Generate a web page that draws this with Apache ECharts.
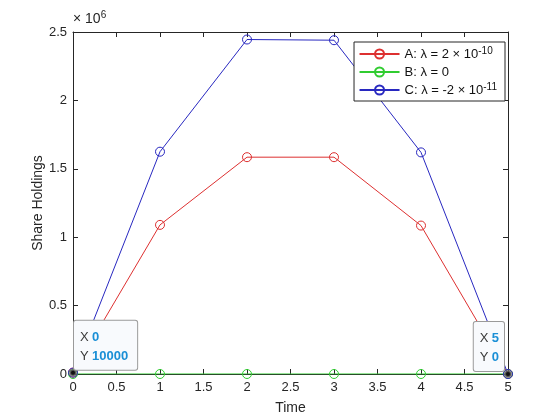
<!DOCTYPE html>
<html>
<head>
<meta charset="utf-8">
<script src="https://cdn.jsdelivr.net/npm/echarts@6/dist/echarts.min.js"></script>
<style>html,body{margin:0;padding:0;background:#fff}#c{width:560px;height:420px}</style>
</head>
<body>
<div id="c"></div>
<script>
var times = [0, 1, 2, 3, 4, 5];
var seriesA = [10000, 1090000, 1585000, 1585000, 1085000, 0];
var seriesB = [0, 0, 0, 0, 0, 0];
var seriesC = [10000, 1625000, 2445000, 2440000, 1620000, 0];
var seriesNames = ['A', 'B', 'C'];
var legendText = {
  A: 'A: λ = 2 × 10{sup|-10}',
  B: 'B: λ = 0',
  C: 'C: λ = -2 × 10{sup|-11}'
};
var yTicks = [0, 500000, 1000000, 1500000, 2000000, 2500000];

function pairs(v) { return times.map(function (t, i) { return [t, v[i]]; }); }

var font = 'Liberation Sans, Arial, sans-serif';
var axisColor = '#262626';
var circlePath = 'path://M9,4.5 A4.5,4.5 0 1 1 0,4.5 A4.5,4.5 0 1 1 9,4.5 Z';

var chart = echarts.init(document.getElementById('c'));
var tipLabel = {
  show: true,
  backgroundColor: '#f8fafd',
  borderColor: '#9a9a9a',
  borderWidth: 1,
  borderRadius: 2,
  padding: [7, 9, 4, 6],
  fontFamily: font,
  rich: {
    k: { fontSize: 13, color: '#3a3a3a', fontFamily: font, lineHeight: 19 },
    v: { fontSize: 13, color: '#1a8fd6', fontWeight: 'bold', fontFamily: font, lineHeight: 19 }
  }
};
function mkSeries(name, values, c, w) {
  return {
    name: name, type: 'line', data: pairs(values),
    symbol: circlePath, symbolSize: 9,
    color: c, lineStyle: { width: w, color: c },
    itemStyle: { color: 'none', borderColor: c, borderWidth: 1 }
  };
}
var sA = mkSeries('A', seriesA, '#dd3030', 1);
var sB = mkSeries('B', seriesB, '#30cc30', 1.2);
var sC = mkSeries('C', seriesC, '#2828c0', 1);
sC.markPoint = {
  symbol: 'circle', symbolSize: 6,
  itemStyle: { color: '#111', borderColor: 'rgba(110,110,110,0.7)', borderWidth: 2 },
  data: [{
    coord: [times[0], seriesC[0]],
    label: Object.assign({}, tipLabel, {
      formatter: '{k|X} {v|' + times[0] + '}\n{k|Y} {v|' + seriesC[0] + '}',
      position: [5, 1], align: 'left', verticalAlign: 'bottom'
    })
  }, {
    coord: [times[5], seriesC[5]],
    label: Object.assign({}, tipLabel, {
      formatter: '{k|X} {v|' + times[5] + '}\n{k|Y} {v|' + seriesC[5] + '}',
      padding: [7, 5, 4, 6],
      position: [0, 1], align: 'right', verticalAlign: 'bottom'
    })
  }]
};
var option = {
  animation: false,
  backgroundColor: '#fff',
  grid: { left: 73, right: 52, top: 32, bottom: 46 },
  graphic: [{
    type: 'text', left: 73, top: 10,
    style: {
      text: '× 10{s|6}', fontFamily: font, fontSize: 14, fill: axisColor,
      rich: { s: { fontSize: 10, verticalAlign: 'top', padding: [0, 0, 8, 0], fontFamily: font } }
    }
  }],
  legend: {
    orient: 'vertical', right: 55, top: 42,
    data: seriesNames,
    icon: 'path://M0,5 L40,5 M24.5,5 A4.5,4.5 0 1 1 15.5,5 A4.5,4.5 0 1 1 24.5,5',
    itemWidth: 40, itemHeight: 9, itemGap: 2,
    backgroundColor: '#fff', borderColor: '#262626', borderWidth: 1, borderRadius: 0,
    padding: [4, 8, 3, 3],
    formatter: function (n) { return legendText[n]; },
    textStyle: {
      fontFamily: font, fontSize: 13, color: '#111', lineHeight: 16,
      rich: { sup: { fontSize: 10, verticalAlign: 'top', padding: [0, 0, 8, 0], fontFamily: font, color: '#111' } }
    }
  },
  xAxis: [{
    type: 'value', min: 0, max: 5, interval: 0.5,
    name: 'Time', nameLocation: 'middle', nameGap: 27,
    nameTextStyle: { fontFamily: font, fontSize: 14, color: axisColor },
    axisLine: { lineStyle: { color: axisColor, width: 1 } },
    axisTick: { inside: true, length: 5, lineStyle: { color: axisColor } },
    axisLabel: { fontFamily: font, fontSize: 13, color: axisColor, margin: 7 },
    splitLine: { show: false }
  }, {
    type: 'value', min: 0, max: 5, interval: 0.5, position: 'top',
    axisLine: { show: true, onZero: false, lineStyle: { color: axisColor, width: 1 } },
    axisTick: { inside: true, length: 5, lineStyle: { color: axisColor } },
    axisLabel: { show: false }, splitLine: { show: false }
  }],
  yAxis: [{
    type: 'value', min: 0, max: 2500000, interval: 500000,
    name: 'Share Holdings', nameLocation: 'middle', nameGap: 28, nameMoveOverlap: false,
    nameTextStyle: { fontFamily: font, fontSize: 14, color: axisColor },
    axisLine: { show: true, lineStyle: { color: axisColor, width: 1 } },
    axisTick: { show: true, inside: true, length: 5, lineStyle: { color: axisColor } },
    axisLabel: {
      fontFamily: font, fontSize: 13, color: axisColor, margin: 6,
      formatter: function (v) { return String(v / 1000000); }
    },
    splitLine: { show: false }
  }, {
    type: 'value', min: 0, max: 2500000, interval: 500000, position: 'right',
    axisLine: { show: true, onZero: false, lineStyle: { color: axisColor, width: 1 } },
    axisTick: { show: true, inside: true, length: 5, lineStyle: { color: axisColor } },
    axisLabel: { show: false }, splitLine: { show: false }
  }],
  series: [sA, sB, sC]
};
chart.setOption(option);
</script>
</body>
</html>
